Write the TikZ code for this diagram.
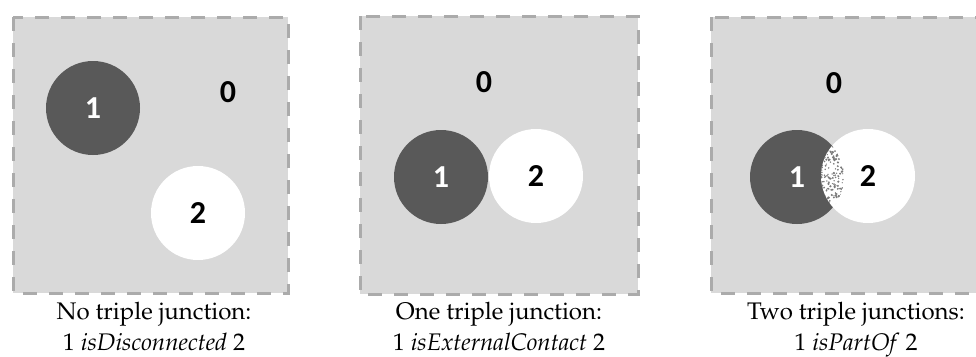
\documentclass[tikz,border=0pt]{standalone}
\usepackage[T1]{fontenc}
\usepackage{fontspec}
\newfontfamily\digitfont{Carlito}
\newcommand\palfont{\fontencoding{T1}\fontfamily{ppl}\selectfont}
\definecolor{panelgray}{HTML}{D9D9D9}
\definecolor{dashgray}{HTML}{ABABAB}
\definecolor{darkfill}{HTML}{595959}
\definecolor{dotgray}{HTML}{7A7A7A}
\begin{document}
\begin{tikzpicture}[x=1pt,y=-1pt,
  panel/.style={fill=panelgray, draw=dashgray, line width=3pt, dash pattern=on 14pt off 12pt},
  digitfnt/.style={font=\digitfont\bfseries\fontsize{32}{32}\selectfont},
  darkdisc/.style={circle, fill=darkfill, minimum size=94pt, inner sep=0pt, text=white, digitfnt},
  lightdisc/.style={circle, fill=white, minimum size=94pt, inner sep=0pt, text=black, digitfnt},
  zerolabel/.style={inner sep=0pt, text=black, digitfnt},
  captext/.style={anchor=base, inner sep=0pt, font=\palfont\fontsize{24}{30}\selectfont}]
\useasboundingbox (0,0) rectangle (976,356);
\clip (0,0) rectangle (976,356);
% panels
\draw[panel] (13,17) rectangle (288,293);
\draw[panel] (360,16) rectangle (638,294);
\draw[panel] (711,17) rectangle (990,293);
% panel 1
\node[darkdisc] (p1a) at (93,108) {1};
\node[lightdisc] (p1b) at (198,213) {2};
\node[zerolabel] (p1z) at (228,92) {0};
% panel 2
\node[darkdisc] (p2a) at (441,177) {1};
\node[lightdisc] (p2b) at (536,176) {2};
\node[zerolabel] (p2z) at (484,82) {0};
% panel 3
\node[darkdisc] (p3a) at (797,177) {};
\node[lightdisc] (p3b) at (868,176) {};
\begin{scope}
  \clip (797,177) circle (47pt);
  \clip (868,176) circle (47pt);
  \pgfmathsetseed{11}
  \foreach \i in {1,...,170}{
    \pgfmathsetmacro\rx{821+23*rnd}
    \pgfmathsetmacro\ry{145+63*rnd}
    \pgfmathsetmacro\rr{0.6+0.7*rnd}
    \fill[dotgray] (\rx,\ry) circle (\rr pt);
  }
\end{scope}
\node[zerolabel, text=white] (p3one) at (p3a) {1};
\node[zerolabel] (p3two) at (p3b) {2};
\node[zerolabel] (p3z) at (834,83) {0};
% captions
\node[captext] (c1a) at (154,319) {No triple junction:};
\node[captext] (c1b) at (154,350) {1 \textit{isDisconnected} 2};
\node[captext] (c2a) at (499,319) {One triple junction:};
\node[captext] (c2b) at (499,350) {1 \textit{isExternalContact} 2};
\node[captext] (c3a) at (856,319) {Two triple junctions:};
\node[captext] (c3b) at (856,350) {1 \textit{isPartOf} 2};
\end{tikzpicture}
\end{document}
